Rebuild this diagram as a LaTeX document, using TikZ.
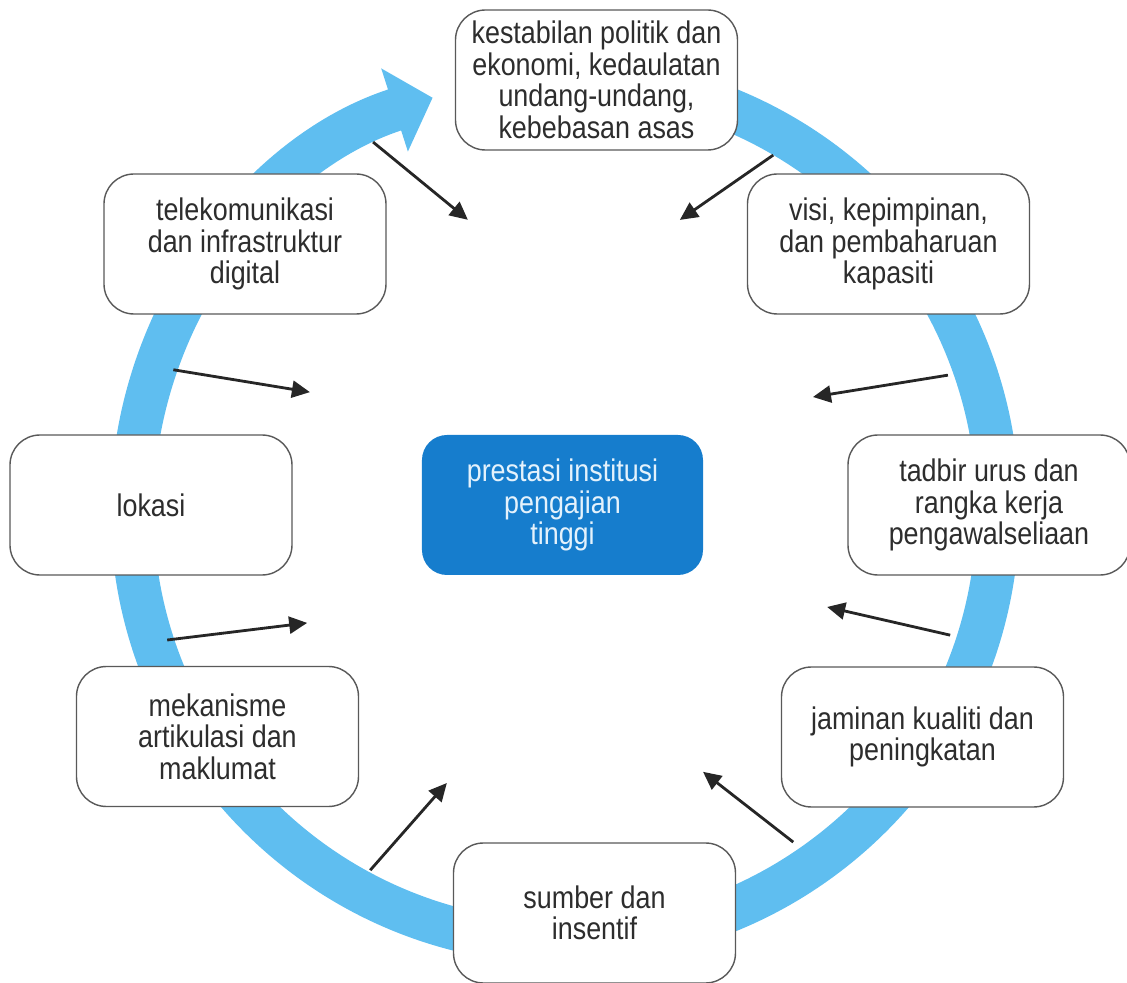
\documentclass[tikz,border=0pt]{standalone}
\usepackage{fontspec}
\setmainfont{Liberation Sans}[FakeStretch=0.86]
\usepackage{tikz}
\usetikzlibrary{arrows.meta}
\definecolor{ringblue}{RGB}{95,190,240}
\definecolor{coreblue}{RGB}{22,125,205}
\definecolor{coretext}{RGB}{228,242,252}
\definecolor{boxtext}{RGB}{45,45,45}
\tikzset{
    factor element/.style={
        draw=black!65,line width=0.8pt,rounded corners=0.6cm,
        fill=white,
        minimum width=5.64cm,minimum height=2.8cm,
        align=center,text=boxtext,
        font=\fontsize{17.8}{18}\selectfont
    },
    core element/.style={
        rounded corners=0.5cm,
        fill=coreblue,
        minimum width=5.62cm,minimum height=2.8cm,
        align=center,text=coretext,
        font=\fontsize{17.8}{18}\selectfont
    },
    >={Triangle[length=0.36cm,width=0.34cm]}
}
\begin{document}
\begin{tikzpicture}
\useasboundingbox (-11.3,-9.46) rectangle (11.24,10.2);
\draw[ringblue,line width=0.86cm,-{Triangle[length=0.8cm,width=1.7cm]}] (85:8.66) arc[start angle=85,end angle=-252.2,radius=8.66];

\node[factor element] (stability) at (0.63,8.6) {kestabilan politik dan\\ekonomi, kedaulatan\\undang-undang,\\kebebasan asas};
\node[factor element] (vision) at (6.47,5.32) {visi, kepimpinan,\\dan pembaharuan\\kapasiti};
\node[factor element] (governance) at (8.48,0.1) {tadbir urus dan\\rangka kerja\\pengawalseliaan};
\node[factor element] (quality) at (7.15,-4.54) {jaminan kualiti dan\\peningkatan};
\node[factor element] (resources) at (0.59,-8.06) {sumber dan\\insentif};
\node[factor element] (articulation) at (-6.95,-4.53) {mekanisme\\artikulasi dan\\maklumat};
\node[factor element] (location) at (-8.28,0.1) {lokasi};
\node[factor element] (telecom) at (-6.4,5.32) {telekomunikasi\\dan infrastruktur\\digital};
\node[core element] (performance) at (-0.05,0.1) {prestasi institusi\\pengajian\\tinggi};

\foreach \i/\a/\ra/\b/\rb in {1/117.55/8.3/108.5/6.12,2/59.6/8.23/68.4/6.24,3/160.3/8.32/155.2/5.62,4/19.4/8.12/24.5/5.45,5/198.1/8.37/203.65/5.63,6/-18/8.1/-20.3/5.59,7/241.6/8.19/246.6/5.95,8/-55.5/8.06/-62.2/5.92}{
    \coordinate (rim\i) at (\a:\ra);
    \coordinate (aim\i) at (\b:\rb);
    \draw[->,line width=1.6pt,black!85] (rim\i) -- (aim\i);
}
\end{tikzpicture}
\end{document}
